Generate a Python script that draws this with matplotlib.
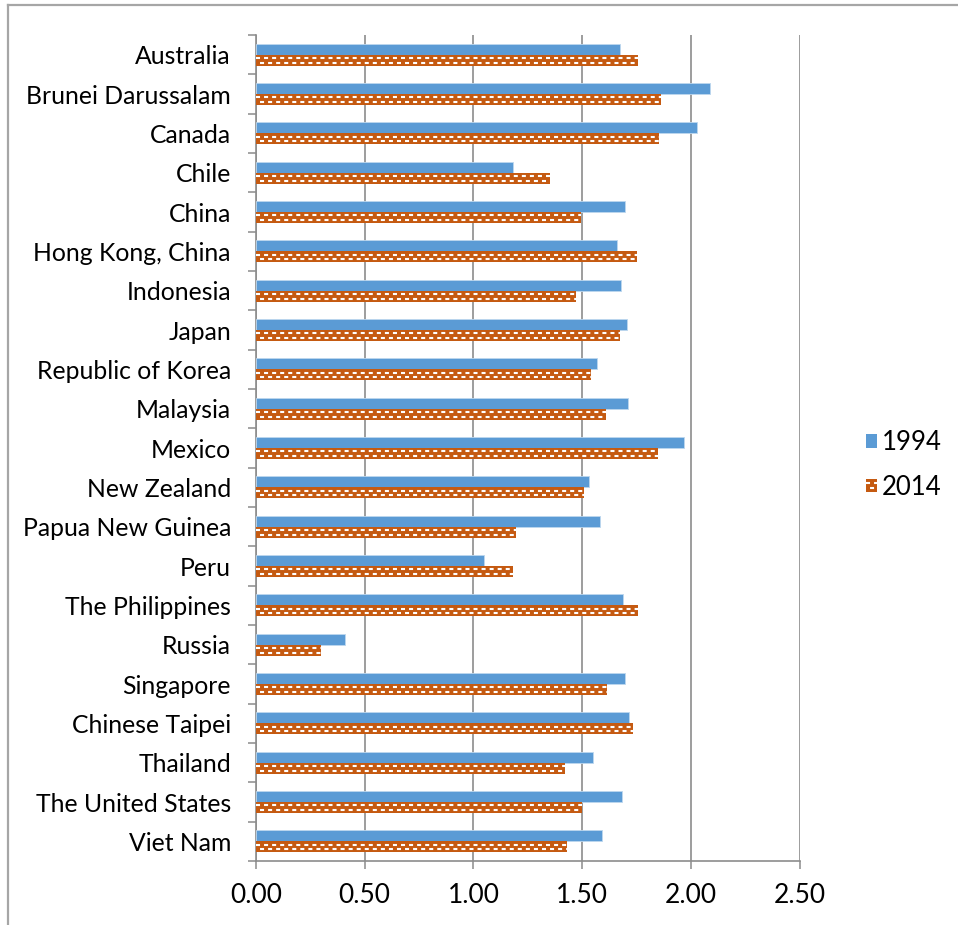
import matplotlib
matplotlib.use("Agg")
import matplotlib.pyplot as plt
import numpy as np
from matplotlib.patches import Rectangle, Patch
from matplotlib.lines import Line2D
from matplotlib.legend_handler import HandlerBase

plt.rcParams["font.family"] = ["Lato", "DejaVu Sans"]
plt.rcParams["lines.scale_dashes"] = False

economies = [
    "Australia", "Brunei Darussalam", "Canada", "Chile", "China",
    "Hong Kong, China", "Indonesia", "Japan", "Republic of Korea", "Malaysia",
    "Mexico", "New Zealand", "Papua New Guinea", "Peru", "The Philippines",
    "Russia", "Singapore", "Chinese Taipei", "Thailand", "The United States",
    "Viet Nam",
]
values_1994 = [1.674, 2.088, 2.030, 1.182, 1.696, 1.661, 1.679, 1.708, 1.569, 1.711,
               1.969, 1.532, 1.581, 1.050, 1.687, 0.411, 1.696, 1.717, 1.549, 1.682,
               1.590]
values_2014 = [1.756, 1.861, 1.855, 1.351, 1.495, 1.754, 1.473, 1.676, 1.540, 1.609,
               1.848, 1.507, 1.195, 1.184, 1.756, 0.298, 1.615, 1.733, 1.423, 1.498,
               1.431]
series_names = ["1994", "2014"]
x_ticks = [0.0, 0.5, 1.0, 1.5, 2.0, 2.5]

BLUE = "#5B9BD5"
ORANGE = "#C55A11"
GRID = "#8C8C8C"
FONT_SIZE = 17.8
TICK_FONT = 19
LEGEND_FONT = 18.5
DASH = 2.9  # points, length of each white dash in the brick pattern
DASH_LW = 1.5

W, H = 958, 925
fig = plt.figure(figsize=(W / 100, H / 100), dpi=100)
ax = fig.add_axes([256 / W, 64 / H, 543.5 / W, 826 / H])

# outer chart frame (left and top edges)
fig.add_artist(Line2D([8 / W, 8 / W], [0, 1 - 5 / H], color="#A6A6A6", lw=1.6,
                      transform=fig.transFigure))
fig.add_artist(Line2D([8 / W, 1], [1 - 5 / H, 1 - 5 / H], color="#A6A6A6", lw=1.6,
                      transform=fig.transFigure))

pos = np.arange(len(economies))
bh = 0.28
ax.barh(pos - bh / 2, values_1994, height=bh, color=BLUE, edgecolor="#BDD7EE",
        linewidth=0.6, zorder=3)
bars14 = ax.barh(pos + bh / 2, values_2014, height=bh, color=ORANGE, linewidth=0,
                 zorder=3)

# white dashed brick pattern on the 2014 bars
for rect in bars14:
    y0, hh, w = rect.get_y(), rect.get_height(), rect.get_width()
    for frac, off in ((0.30, 0.0), (0.72, DASH)):
        ax.plot([0, w], [y0 + frac * hh] * 2, color="white", lw=DASH_LW,
                linestyle=(off, (DASH, DASH)), solid_capstyle="butt",
                dash_capstyle="butt", zorder=4)

ax.set_xlim(0, 2.5)
ax.set_ylim(len(economies) - 0.5, -0.5)

ax.set_xticks(x_ticks)
ax.set_xticklabels([f"{t:.2f}" for t in x_ticks], fontsize=TICK_FONT)
ax.set_yticks(pos)
ax.set_yticklabels(economies, fontsize=FONT_SIZE)
ax.set_yticks(np.arange(-0.5, len(economies), 1.0), minor=True)
ax.tick_params(axis="y", which="major", length=0, pad=18)
ax.tick_params(axis="y", which="minor", length=5.8, width=1.1, color=GRID,
               direction="out")
ax.tick_params(axis="x", length=5.8, width=1.1, color=GRID, direction="out", pad=10)

ax.grid(axis="x", color=GRID, lw=1.2, zorder=0)
ax.set_axisbelow(True)
for side in ("top", "right"):
    ax.spines[side].set_visible(False)
for side in ("left", "bottom"):
    ax.spines[side].set_color(GRID)
    ax.spines[side].set_linewidth(1.2)


class BrickHandler(HandlerBase):
    def create_artists(self, legend, orig_handle, xdescent, ydescent, width,
                       height, fontsize, trans):
        x0, y0 = -xdescent, -ydescent
        arts = [Rectangle((x0, y0), width, height, facecolor=ORANGE,
                          edgecolor="none", transform=trans)]
        for frac, off in ((0.72, 0.0), (0.30, DASH)):
            arts.append(Line2D([x0, x0 + width], [y0 + frac * height] * 2,
                               color="white", lw=DASH_LW,
                               linestyle=(off, (DASH, DASH)), transform=trans))
        return arts


h1 = Patch(facecolor=BLUE, edgecolor="none")
h2 = Patch(facecolor=ORANGE, edgecolor="none")
fs_px = LEGEND_FONT * 100 / 72
fig.legend([h1, h2], series_names, loc="center left",
           bbox_to_anchor=(866 / W, 1 - 465 / H), frameon=False,
           fontsize=LEGEND_FONT, borderpad=0, borderaxespad=0,
           handlelength=11 / fs_px, handleheight=11 / fs_px,
           handletextpad=5 / fs_px, labelspacing=0.75,
           handler_map={h2: BrickHandler()})

fig.savefig("out.png", dpi=100)
